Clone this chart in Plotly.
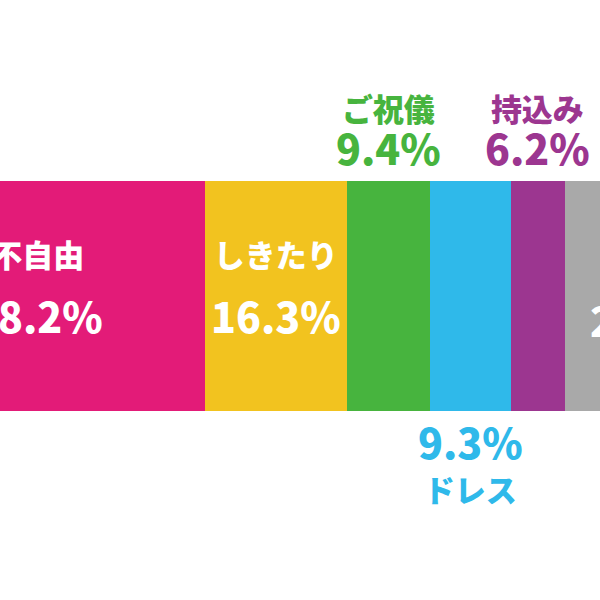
import plotly.graph_objects as go

categories = ["不自由", "しきたり", "ご祝儀", "ドレス", "持込み", "その他"]
values = [38.2, 16.3, 9.4, 9.3, 6.2, 20.6]
colors = ["#E31B78", "#F2C31F", "#47B43E", "#2FB9EA", "#9C3690", "#A9A9A9"]
# where each label goes: inside the bar, above, or below
placement = ["inside", "inside", "above", "below", "above", "inside"]
show_name = [True, True, True, True, True, False]

FONT = "Noto Sans CJK JP"
X0, X1 = 14.74, 83.41
BAR_CENTER = 296
BAR_WIDTH = 230
NAME_PX = 31
PCT_PX = 41

fig = go.Figure()
for cat, val, col in zip(categories, values, colors):
    fig.add_trace(go.Bar(
        x=[val], y=[BAR_CENTER], orientation="h", width=BAR_WIDTH,
        marker=dict(color=col, line=dict(width=0)), name=cat,
        hoverinfo="skip", showlegend=False,
    ))

annotations = []
start = 0.0
for cat, val, col, pl, sn in zip(categories, values, colors, placement, show_name):
    cx = start + val / 2
    start += val
    name_t = f"<span style='font-size:{NAME_PX}px'>{cat}</span>"
    pct_t = f"<span style='font-size:{PCT_PX}px'>{val:.1f}%</span>"
    if pl == "inside":
        base, ymid, tcol = 51, 288, "white"
        text = f"{name_t}<br>{pct_t}" if sn else pct_t
        if not sn:
            base, ymid = PCT_PX, 319
    elif pl == "above":
        base, ymid, tcol = 34, 131, col
        text = f"{name_t}<br>{pct_t}"
    else:
        base, ymid, tcol = 33, 461, col
        text = f"{pct_t}<br>{name_t}"
    fx = (cx - X0) / (X1 - X0)
    annotations.append(dict(xref="paper", x=fx, y=ymid, text=text, showarrow=False,
                            font=dict(family=FONT, size=base, color=tcol, weight=900),
                            xanchor="center", yanchor="middle", borderpad=0,
                            align="center"))

fig.update_layout(
    barmode="stack",
    width=600, height=600,
    margin=dict(l=0, r=0, t=0, b=0),
    paper_bgcolor="white", plot_bgcolor="white",
    xaxis=dict(range=[X0, X1], visible=False, fixedrange=True),
    yaxis=dict(range=[600, 0], visible=False, fixedrange=True),
    annotations=annotations,
    bargap=0,
)

fig.write_html("out.html", config={"displayModeBar": False},
               post_script="document.body.style.margin='0';document.body.style.padding='0';document.body.style.overflow='hidden';")
